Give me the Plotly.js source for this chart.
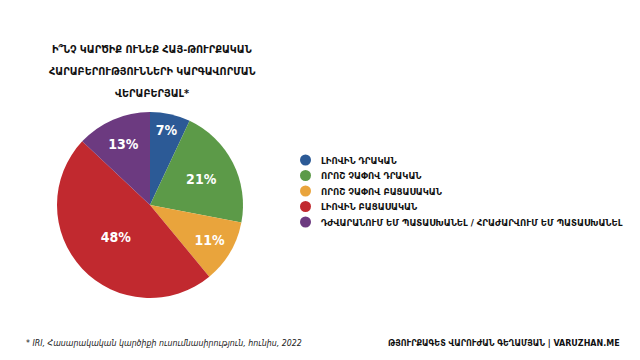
<!DOCTYPE html>
<html><head><meta charset="utf-8">
<script src="https://cdn.plot.ly/plotly-3.0.1.min.js"></script>
<style>html,body{margin:0;padding:0;background:#fff}#c{width:640px;height:360px}</style>
</head><body><div id="c"></div>
<script>
const categories = [
  "ԼԻՈՎԻՆ ԴՐԱԿԱՆ",
  "ՈՐՈՇ ՉԱՓՈՎ ԴՐԱԿԱՆ",
  "ՈՐՈՇ ՉԱՓՈՎ ԲԱՑԱՍԱԿԱՆ",
  "ԼԻՈՎԻՆ ԲԱՑԱՍԱԿԱՆ",
  "ԴԺՎԱՐԱՆՈՒՄ ԵՄ ՊԱՏԱՍԽԱՆԵԼ / ՀՐԱԺԱՐՎՈՒՄ ԵՄ ՊԱՏԱՍԽԱՆԵԼ"
];
const values = [7, 21, 11, 48, 13];
const colors = ["#2c5a96", "#5c9a48", "#e9a43c", "#c1292f", "#6c3a80"];
const titleLines = ["Ի՞ՆՉ ԿԱՐԾԻՔ ՈՒՆԵՔ ՀԱՅ-ԹՈՒՐՔԱԿԱՆ", "ՀԱՐԱԲԵՐՈՒԹՅՈՒՆՆԵՐԻ ԿԱՐԳԱՎՈՐՄԱՆ", "ՎԵՐԱԲԵՐՅԱԼ*"];
const sourceNote = "* IRI, Հասարակական կարծիքի ուսումնասիրություն, հունիս, 2022";
const credit = "ԹՅՈՒՐՔԱԳԵՏ ՎԱՐՈՒԺԱՆ ԳԵՂԱՄՅԱՆ | VARUZHAN.ME";

const FONT = "'DejaVu Sans Condensed', 'DejaVu Sans', sans-serif";
const W = 640, H = 360;

const trace = {
  type: "pie",
  labels: categories,
  values: values,
  text: values.map(v => v + "%"),
  textinfo: "text",
  textposition: "inside",
  insidetextorientation: "horizontal",
  sort: false,
  direction: "clockwise",
  rotation: 0,
  marker: {colors: colors, line: {width: 0}},
  textfont: {family: FONT, size: 14, color: "#ffffff", weight: "bold"},
  domain: {x: [57 / W, 243 / W], y: [1 - 298 / H, 1 - 112 / H]},
  showlegend: false,
  hoverinfo: "none"
};

const annotations = [];
const shapes = [];
// title, one line per annotation to keep the wide line spacing
titleLines.forEach((t, i) => {
  annotations.push({
    xref: "paper", yref: "paper", x: 152 / W, y: 1 - (50 + i * 22) / H, xanchor: "center", yanchor: "middle",
    text: "<b>" + t + "</b>", showarrow: false, align: "center",
    font: {family: FONT, size: 10.8, color: "#111"}
  });
});
// legend
const legTop = 160, legStep = 15.5;
categories.forEach((c, i) => {
  const y = legTop + i * legStep;
  shapes.push({type: "circle", xref: "paper", yref: "paper",
    x0: 300 / W, x1: 311 / W, y0: 1 - (y + 5.5) / H, y1: 1 - (y - 5.5) / H,
    fillcolor: colors[i], line: {width: 0}});
  annotations.push({xref: "paper", yref: "paper", x: 319 / W, y: 1 - y / H, xanchor: "left", yanchor: "middle",
    text: "<b>" + c + "</b>", showarrow: false, font: {family: FONT, size: 9.5, color: "#111"}});
});
annotations.push({xref: "paper", yref: "paper", x: 24 / W, y: 1 - 343 / H, xanchor: "left", yanchor: "middle",
  text: "<i>" + sourceNote + "</i>", showarrow: false, font: {family: FONT, size: 8.75, color: "#222"}});
annotations.push({xref: "paper", yref: "paper", x: 622 / W, y: 1 - 343 / H, xanchor: "right", yanchor: "middle",
  text: "<b>" + credit + "</b>", showarrow: false, font: {family: FONT, size: 8.9, color: "#111"}});

Plotly.newPlot("c", [trace], {
  width: W, height: H, margin: {l: 0, r: 0, t: 0, b: 0},
  paper_bgcolor: "#ffffff", plot_bgcolor: "#ffffff",
  annotations: annotations, shapes: shapes, showlegend: false
}, {displayModeBar: false, staticPlot: true});
</script></body></html>
